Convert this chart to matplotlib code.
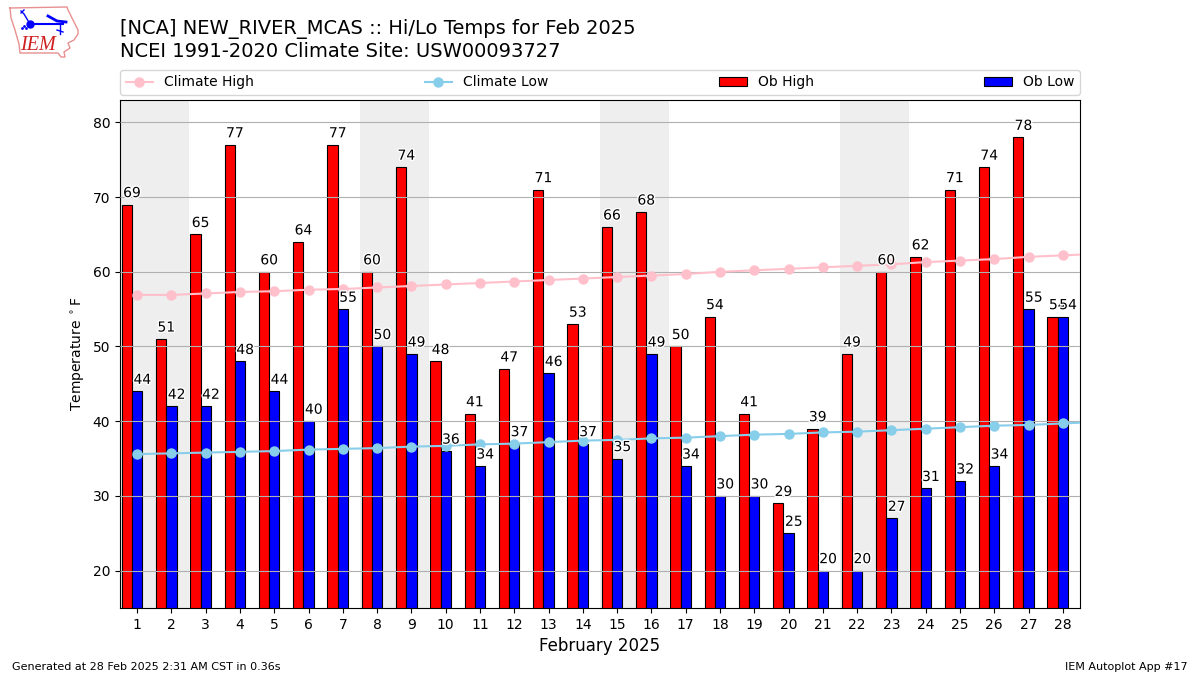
import matplotlib
matplotlib.use("Agg")
import matplotlib.pyplot as plt
import matplotlib.patheffects as PathEffects
import numpy as np

days = list(range(1, 29))
ob_high = [69, 51, 65, 77, 60, 64, 77, 60, 74, 48, 41, 47, 71, 53,
           66, 68, 50, 54, 41, 29, 39, 49, 60, 62, 71, 74, 78, 54]
ob_low = [44, 42, 42, 48, 44, 40, 55, 50, 49, 36, 34, 37, 46.4, 37,
          35, 49, 34, 30, 30, 25, 20, 20, 27, 31, 32, 34, 55, 54]
# one more point than days, the lines run off the right edge
climate_high = [56.9, 56.9, 57.1, 57.3, 57.4, 57.6, 57.7, 57.9, 58.1, 58.3,
                58.5, 58.7, 58.9, 59.1, 59.3, 59.5, 59.7, 60.0, 60.2, 60.4,
                60.6, 60.8, 61.0, 61.3, 61.5, 61.7, 62.0, 62.2, 62.4]
climate_low = [35.6, 35.7, 35.8, 35.9, 36.0, 36.2, 36.3, 36.4, 36.6, 36.7,
               36.9, 37.0, 37.2, 37.4, 37.5, 37.7, 37.8, 38.0, 38.2, 38.3,
               38.5, 38.6, 38.8, 39.0, 39.2, 39.4, 39.5, 39.7, 39.9]
weekends = [(0.5, 2.5), (7.5, 9.5), (14.5, 16.5), (21.5, 23.5)]
yticks = [20, 30, 40, 50, 60, 70, 80]

fig = plt.figure(figsize=(12, 6.75), dpi=100)
ax = fig.add_axes([0.1, 0.0993, 0.8, 0.7526])

for start, end in weekends:
    ax.axvspan(start, end, color="#eeeeee", lw=0, zorder=0)

x = np.array(days)
ax.bar(x - 0.3, ob_high, width=0.3, color="r", edgecolor="k", lw=0.8,
       label="Ob High", zorder=1.5)
ax.bar(x, ob_low, width=0.3, color="b", edgecolor="k", lw=0.8,
       label="Ob Low", zorder=1.5)
climate_x = np.arange(1, len(climate_high) + 1)
ax.plot(climate_x, climate_high, color="pink", marker="o", ms=6.5, lw=1.5,
        label="Climate High", zorder=3)
ax.plot(climate_x, climate_low, color="skyblue", marker="o", ms=6.5, lw=1.5,
        label="Climate Low", zorder=3)

# value labels with a white halo
for day, hi, lo in zip(days, ob_high, ob_low):
    for xpos, val in ((day - 0.15, hi), (day + 0.15, lo)):
        ax.text(xpos, val + 1, f"{int(val)}", ha="center", fontsize=10, zorder=4,
                path_effects=[PathEffects.withStroke(linewidth=2, foreground="w")])

ax.set_xlim(0.5, 28.5)
ax.set_ylim(15, 83)
ax.set_xticks(days)
ax.set_yticks(yticks)
ax.tick_params(labelsize=10)
ax.grid(True, axis="y", color="#b0b0b0", lw=0.8, zorder=2)
ax.set_axisbelow(False)
ax.set_xlabel("February 2025", fontsize=12)
ax.set_ylabel("Temperature $^\\circ$F", fontsize=10)

handles, labels = ax.get_legend_handles_labels()
order = [labels.index(n) for n in ("Climate High", "Climate Low", "Ob High", "Ob Low")]
fig.legend([handles[i] for i in order], [labels[i] for i in order], ncol=4,
           mode="expand", loc="lower left", fontsize=10, borderaxespad=0,
           bbox_to_anchor=(0.1, 0.8593, 0.8, 0.037))

fig.text(0.1, 0.909, "[NCA] NEW_RIVER_MCAS :: Hi/Lo Temps for Feb 2025\n"
         "NCEI 1991-2020 Climate Site: USW00093727", fontsize=14, va="bottom",
         linespacing=1.2)
fig.text(0.01, 0.0075, "Generated at 28 Feb 2025 2:31 AM CST in 0.36s", fontsize=8)
fig.text(0.99, 0.0075, "IEM Autoplot App #17", fontsize=8, ha="right")

# rough copy of the IEM logo, axes run in figure pixels
logo = fig.add_axes([0, 1 - 62 / 675, 85 / 1200, 62 / 675])
logo.set_xlim(0, 85)
logo.set_ylim(62, 0)
logo.axis("off")
outline_x = [10, 67, 68, 73, 78, 78, 74, 68, 70, 64, 65, 61, 58, 20, 19, 15, 11, 10]
outline_y = [8, 7, 10, 20, 30, 34, 40, 43, 48, 52, 57, 57, 53, 53, 44, 30, 18, 8]
logo.plot(outline_x, outline_y, color="#e89090", lw=1)
logo.plot([30, 63], [24, 24], color="b", lw=1.5)
logo.plot([30], [24], "o", color="b", ms=5)
logo.plot([21, 24, 30], [11, 14, 24], color="b", lw=1)
logo.plot([24, 21], [10, 13], color="b", lw=1)
logo.plot([48, 57, 66], [16, 21, 22], color="b", lw=2)
logo.plot([60, 60], [24, 34], color="b", lw=1)
logo.plot([57, 63], [30, 32], color="b", lw=1)
logo.plot([24, 22, 26], [26, 28, 28], ".", color="b", ms=2)
logo.text(37.5, 45.5, "IEM", color="#d02020", fontsize=14.5, family="Liberation Serif",
          style="italic", ha="center", va="center")

fig.savefig("out.png", dpi=100)
